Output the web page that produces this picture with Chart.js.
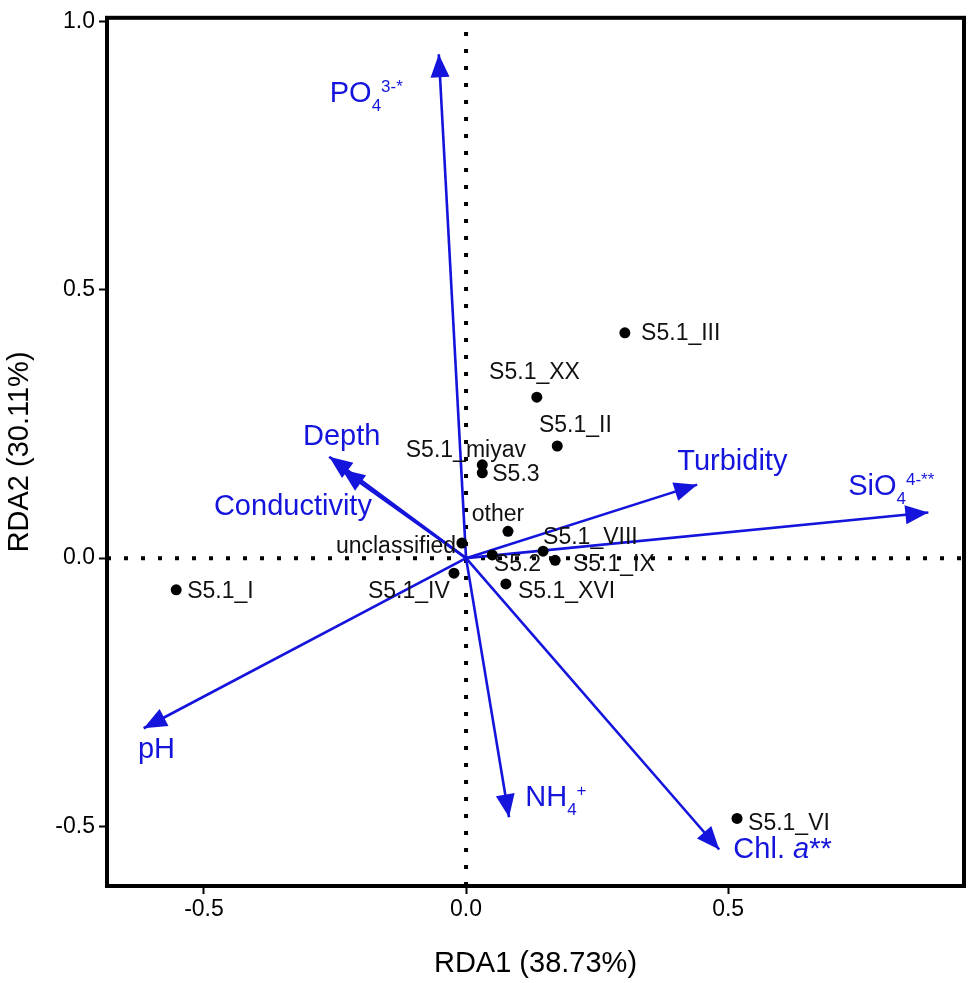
<!DOCTYPE html>
<html>
<head>
<meta charset="utf-8">
<title>RDA biplot</title>
<script src="https://cdn.jsdelivr.net/npm/chart.js"></script>
<style>
  html, body { margin: 0; padding: 0; background: #ffffff; }
  #wrap { width: 975px; height: 983px; }
</style>
</head>
<body>
<div id="wrap"><canvas id="rda-canvas"></canvas></div>
<script>
// axes
var xTicks = [-0.5, 0.0, 0.5];
var yTicks = [-0.5, 0.0, 0.5, 1.0];
var xRange = [-0.685, 0.950];
var yRange = [-0.611, 1.007];

// sample scores
var sampleNames = ["S5.1_III", "S5.1_XX", "S5.1_II", "S5.1_miyav", "S5.3", "other",
  "unclassified", "S5.2", "S5.1_VIII", "S5.1_IX", "S5.1_XVI", "S5.1_IV", "S5.1_I", "S5.1_VI"];
var sampleRDA1 = [0.303, 0.135, 0.174, 0.031, 0.031, 0.080, -0.008, 0.050, 0.147, 0.170, 0.076, -0.023, -0.553, 0.517];
var sampleRDA2 = [0.420, 0.300, 0.209, 0.174, 0.159, 0.050, 0.028, 0.006, 0.013, -0.004, -0.048, -0.028, -0.059, -0.485];
// where each sample name sits (baseline), in axis units
var sampleLabelX = [0.334, 0.044, 0.139, -0.115, 0.050, 0.011, -0.019, 0.053, 0.147, 0.204, 0.099, -0.031, -0.532, 0.538];
var sampleLabelY = [0.406, 0.333, 0.235, 0.189, 0.143, 0.070, 0.009, -0.024, 0.026, -0.024, -0.074, -0.074, -0.074, -0.506];
var sampleLabelAlign = ["left", "left", "left", "left", "left", "left", "right", "left", "left", "left", "left", "right", "left", "left"];

// environmental vectors
var envNames = ["PO4", "Depth", "Conductivity", "Turbidity", "SiO4", "pH", "NH4", "Chl. a"];
var envRDA1 = [-0.052, -0.261, -0.237, 0.441, 0.882, -0.615, 0.082, 0.483];
var envRDA2 = [0.939, 0.189, 0.165, 0.137, 0.085, -0.317, -0.483, -0.543];
var envLabelX = [-0.260, -0.311, -0.481, 0.403, 0.729, -0.626, 0.113, 0.510];
var envLabelY = [0.850, 0.211, 0.081, 0.165, 0.117, -0.372, -0.461, -0.559];
var envLabelParts = [
  [["PO"], ["4", "sub"], ["3-*", "sup"]],
  [["Depth"]],
  [["Conductivity"]],
  [["Turbidity"]],
  [["SiO"], ["4", "sub"], ["4-**", "sup"]],
  [["pH"]],
  [["NH"], ["4", "sub"], ["+", "sup"]],
  [["Chl. "], ["a", "it"], ["**"]]
];

var BLUE = "#1414dc";
var FONT = "'Liberation Sans', Arial, sans-serif";

var rdaPlot = {
  init: function() {
    this.draw();
  },

  drawRich: function(ctx, parts, x, y) {
    var cx = x;
    for (var i = 0; i < parts.length; i++) {
      var txt = parts[i][0], kind = parts[i][1];
      var dy = 0;
      if (kind === "sub") {
        ctx.font = "17px " + FONT;
        dy = 9;
      } else if (kind === "sup") {
        ctx.font = "17px " + FONT;
        dy = -10;
      } else if (kind === "it") {
        ctx.font = "italic 29px " + FONT;
      } else {
        ctx.font = "29px " + FONT;
      }
      ctx.fillText(txt, cx, y + dy);
      cx += ctx.measureText(txt).width;
    }
  },

  overlay: {
    id: "rdaOverlay",
    afterDatasetsDraw: function(chart) {
      var ctx = chart.ctx;
      var xs = chart.scales.x, ys = chart.scales.y, area = chart.chartArea;
      var ox = xs.getPixelForValue(0), oy = ys.getPixelForValue(0);
      ctx.save();

      // arrow heads
      ctx.fillStyle = BLUE;
      for (var i = 0; i < envNames.length; i++) {
        var tx = xs.getPixelForValue(envRDA1[i]);
        var ty = ys.getPixelForValue(envRDA2[i]);
        var a = Math.atan2(ty - oy, tx - ox);
        var L = 23, W = 9.5;
        ctx.beginPath();
        ctx.moveTo(tx, ty);
        ctx.lineTo(tx - L * Math.cos(a) + W * Math.sin(a), ty - L * Math.sin(a) - W * Math.cos(a));
        ctx.lineTo(tx - L * Math.cos(a) - W * Math.sin(a), ty - L * Math.sin(a) + W * Math.cos(a));
        ctx.closePath();
        ctx.fill();
      }

      // vector labels
      ctx.textBaseline = "alphabetic";
      ctx.textAlign = "left";
      for (var j = 0; j < envNames.length; j++) {
        rdaPlot.drawRich(ctx, envLabelParts[j],
          xs.getPixelForValue(envLabelX[j]), ys.getPixelForValue(envLabelY[j]));
      }

      // sample labels
      ctx.fillStyle = "#111111";
      ctx.font = "23px " + FONT;
      for (var k = 0; k < sampleNames.length; k++) {
        ctx.textAlign = sampleLabelAlign[k];
        ctx.fillText(sampleNames[k], xs.getPixelForValue(sampleLabelX[k]), ys.getPixelForValue(sampleLabelY[k]));
      }

      // frame
      ctx.strokeStyle = "#000000";
      ctx.lineWidth = 4;
      ctx.strokeRect(area.left, area.top, area.right - area.left, area.bottom - area.top);
      ctx.restore();
    }
  },

  draw: function() {
    var datasets = [];

    datasets.push({
      type: "scatter",
      data: sampleNames.map(function(n, i) { return { x: sampleRDA1[i], y: sampleRDA2[i] }; }),
      pointRadius: 5.5,
      pointBackgroundColor: "#000000",
      pointBorderWidth: 0,
      showLine: false
    });

    for (var i = 0; i < envNames.length; i++) {
      datasets.push({
        type: "line",
        data: [{ x: 0, y: 0 }, { x: envRDA1[i], y: envRDA2[i] }],
        borderColor: BLUE,
        borderWidth: 2.6,
        pointRadius: 0,
        fill: false,
        tension: 0
      });
    }

    // dotted zero lines
    datasets.push({
      type: "line",
      data: [{ x: 0, y: yRange[0] }, { x: 0, y: yRange[1] }],
      borderColor: "#000000",
      borderWidth: 4,
      borderDash: [4, 13],
      pointRadius: 0,
      fill: false
    });
    datasets.push({
      type: "line",
      data: [{ x: xRange[0], y: 0 }, { x: xRange[1], y: 0 }],
      borderColor: "#000000",
      borderWidth: 4,
      borderDash: [4, 13],
      pointRadius: 0,
      fill: false
    });

    var tickGrid = {
      display: true,
      drawOnChartArea: false,
      drawTicks: true,
      tickLength: 8,
      tickWidth: 2,
      tickColor: "#000000"
    };

    new Chart(document.getElementById("rda-canvas"), {
      type: "scatter",
      data: { datasets: datasets },
      plugins: [rdaPlot.overlay],
      options: {
        responsive: true,
        maintainAspectRatio: false,
        animation: false,
        events: [],
        layout: { padding: { top: 12, right: 11, left: 0, bottom: 0 } },
        plugins: { legend: { display: false }, tooltip: { enabled: false } },
        scales: {
          x: {
            type: "linear",
            min: xRange[0],
            max: xRange[1],
            afterBuildTicks: function(scale) {
              scale.ticks = xTicks.map(function(v) { return { value: v }; });
            },
            afterFit: function(scale) { scale.height = 97; },
            ticks: {
              callback: function(v) { return Number(v).toFixed(1); },
              font: { family: FONT, size: 23 },
              color: "#000000",
              padding: 2,
              maxRotation: 0
            },
            grid: tickGrid,
            border: { display: false },
            title: {
              display: true,
              text: "RDA1 (38.73%)",
              font: { family: FONT, size: 29 },
              color: "#000000",
              padding: { top: 0, bottom: 2 }
            }
          },
          y: {
            type: "linear",
            min: yRange[0],
            max: yRange[1],
            afterBuildTicks: function(scale) {
              scale.ticks = yTicks.map(function(v) { return { value: v }; });
            },
            afterFit: function(scale) { scale.width = 107; },
            ticks: {
              callback: function(v) { return Number(v).toFixed(1); },
              font: { family: FONT, size: 23 },
              color: "#000000",
              padding: 4
            },
            grid: tickGrid,
            border: { display: false },
            title: {
              display: true,
              text: "RDA2 (30.11%)",
              font: { family: FONT, size: 29 },
              color: "#000000",
              padding: { top: 3, bottom: 0 }
            }
          }
        }
      }
    });
  }
};

rdaPlot.init();
</script>
</body>
</html>
